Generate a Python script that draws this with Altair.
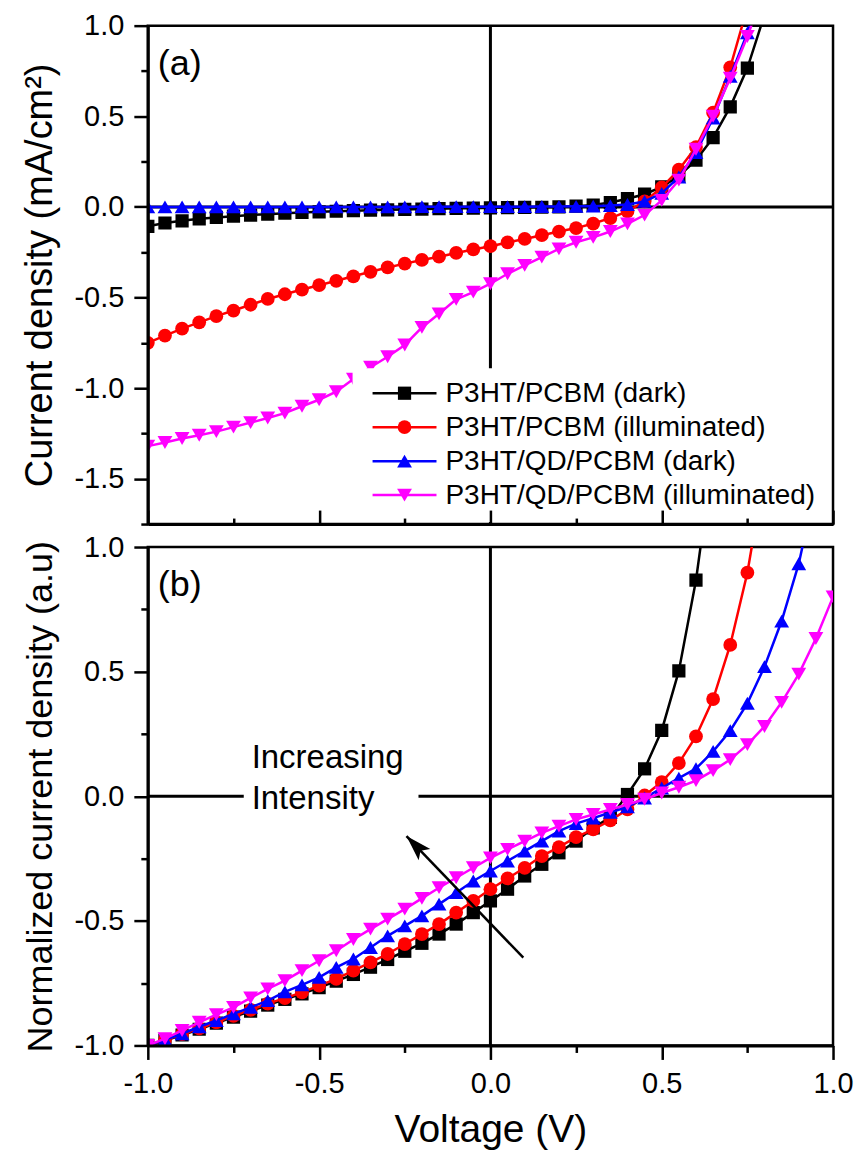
import altair as alt
import pandas as pd

FONT = "Liberation Sans"

# Voltage grid of the sweep (V), one reading every 50 mV
VOLTAGE = [-1.0, -0.95, -0.9, -0.85, -0.8, -0.75, -0.7, -0.65, -0.6, -0.55,
           -0.5, -0.45, -0.4, -0.35, -0.3, -0.25, -0.2, -0.15, -0.1, -0.05,
           0.0, 0.05, 0.1, 0.15, 0.2, 0.25, 0.3, 0.35, 0.4, 0.45,
           0.5, 0.55, 0.6, 0.65, 0.7, 0.75, 0.8, 0.85, 0.9, 0.95, 1.0]

SERIES = ["P3HT/PCBM (dark)", "P3HT/PCBM (illuminated)",
          "P3HT/QD/PCBM (dark)", "P3HT/QD/PCBM (illuminated)"]
COLORS = ["#000000", "#ff0000", "#0000ff", "#ff00ff"]
SHAPES = ["square", "circle", "triangle-up", "triangle-down"]
SIZES = [175, 190, 220, 220]

# (a) current density, mA/cm^2
A_PCBM_DARK = [-0.107, -0.089, -0.077, -0.066, -0.058, -0.051, -0.045, -0.040, -0.035, -0.031,
               -0.027, -0.024, -0.021, -0.018, -0.016, -0.014, -0.012, -0.010, -0.008, -0.007,
               -0.005, -0.004, -0.003, -0.002, 0.000, 0.004, 0.010, 0.024, 0.045, 0.070,
               0.110, 0.170, 0.258, 0.382, 0.552, 0.766, 1.06]
A_PCBM_LIGHT = [-0.750, -0.710, -0.672, -0.637, -0.603, -0.572, -0.540, -0.508, -0.482, -0.456,
                -0.432, -0.408, -0.383, -0.358, -0.334, -0.313, -0.293, -0.275, -0.254, -0.235,
                -0.217, -0.196, -0.177, -0.156, -0.136, -0.117, -0.092, -0.062, -0.025, 0.030,
                0.107, 0.205, 0.330, 0.520, 0.770, 1.10, 1.45]
A_QD_DARK = [0.000, 0.000, 0.000, 0.000, 0.000, 0.000, 0.000, 0.000, 0.000, 0.000,
             0.000, 0.000, 0.000, 0.000, 0.000, 0.000, 0.001, 0.001, 0.001, 0.001,
             0.001, 0.001, 0.001, 0.002, 0.002, 0.003, 0.004, 0.007, 0.013, 0.030,
             0.075, 0.165, 0.300, 0.490, 0.720, 0.960, 1.25]
A_QD_LIGHT = [-1.320, -1.300, -1.278, -1.260, -1.240, -1.215, -1.190, -1.165, -1.138, -1.100,
              -1.064, -1.020, -0.950, -0.885, -0.827, -0.762, -0.665, -0.590, -0.510, -0.470,
              -0.424, -0.369, -0.323, -0.277, -0.232, -0.195, -0.168, -0.136, -0.094, -0.045,
              0.036, 0.148, 0.318, 0.500, 0.710, 0.940, 1.20]

# (b) normalized current density, a.u.
B_PCBM_DARK = [-1.000, -0.980, -0.958, -0.935, -0.910, -0.886, -0.862, -0.838, -0.815, -0.793,
               -0.768, -0.742, -0.715, -0.686, -0.655, -0.622, -0.590, -0.553, -0.513, -0.467,
               -0.420, -0.373, -0.320, -0.273, -0.227, -0.180, -0.127, -0.085, 0.007, 0.110,
               0.264, 0.503, 0.867, 1.37]
B_PCBM_LIGHT = [-1.000, -0.978, -0.955, -0.932, -0.907, -0.881, -0.857, -0.832, -0.810, -0.787,
                -0.760, -0.733, -0.700, -0.667, -0.633, -0.593, -0.553, -0.513, -0.467, -0.420,
                -0.373, -0.330, -0.287, -0.240, -0.204, -0.164, -0.133, -0.097, -0.053, 0.003,
                0.057, 0.133, 0.240, 0.390, 0.607, 0.897, 1.30]
B_QD_DARK = [-1.000, -0.977, -0.953, -0.925, -0.900, -0.873, -0.847, -0.820, -0.785, -0.757,
             -0.727, -0.687, -0.653, -0.607, -0.560, -0.520, -0.480, -0.433, -0.387, -0.340,
             -0.300, -0.260, -0.220, -0.180, -0.140, -0.110, -0.088, -0.065, -0.043, -0.007,
             0.033, 0.073, 0.111, 0.180, 0.263, 0.373, 0.520, 0.703, 0.933, 1.25]
B_QD_LIGHT = [-1.000, -0.973, -0.940, -0.907, -0.876, -0.847, -0.809, -0.773, -0.740, -0.700,
              -0.660, -0.620, -0.575, -0.533, -0.493, -0.453, -0.410, -0.367, -0.327, -0.287,
              -0.247, -0.213, -0.180, -0.147, -0.120, -0.093, -0.073, -0.053, -0.033, -0.012,
              0.013, 0.036, 0.063, 0.103, 0.147, 0.207, 0.280, 0.377, 0.490, 0.633, 0.800]

# Annotation in (b): arrow tail/tip and the two-line label (data units)
ARROW_TAIL = (0.096, -0.648)
ARROW_TIP = (-0.245, -0.16)
NOTE_LINES = ["Increasing", "Intensity"]
NOTE_POS = (-0.697, 0.112)
NOTE_BOX = (-0.72, -0.21, 0.21, -0.075)

QUARTERS_X = [-1.0, -0.75, -0.5, -0.25, 0.0, 0.25, 0.5, 0.75, 1.0]
QUARTERS_YA = [-1.75, -1.5, -1.25, -1.0, -0.75, -0.5, -0.25, 0.0, 0.25, 0.5, 0.75, 1.0]
QUARTERS_YB = [-1.0, -0.75, -0.5, -0.25, 0.0, 0.25, 0.5, 0.75, 1.0]

W, H = 686, 499
MINOR = "abs(datum.value * 4) % 2 == 1"
LABEL = "abs(datum.value * 4) % 2 == 1 ? '' : replace(format(datum.value, '.1f'), '\u2212', '-')"


def tick_len(major, minor):
    return {"condition": {"test": MINOR, "value": minor}, "value": major}


x_scale = alt.Scale(domain=[-1.0, 1.0], nice=False, zero=False)


def x_enc(show_labels):
    if show_labels:
        axis = alt.Axis(values=QUARTERS_X, labelExpr=LABEL, title="Voltage (V)",
                        tickSize=tick_len(14, 7), labelPadding=10, titlePadding=12,
                        titleFontSize=39, labelFlush=False, zindex=1)
    else:
        axis = alt.Axis(values=QUARTERS_X, labels=False, title=None,
                        tickSize=tick_len(-14, -6), zindex=1)
    return alt.X("V:Q", scale=x_scale, axis=axis)


def y_enc(domain, values, title, title_size):
    axis = alt.Axis(values=values, labelExpr=LABEL, title=title,
                    tickSize=tick_len(14, 7), labelPadding=10, titlePadding=14,
                    titleFontSize=title_size, labelFlush=False, zindex=1)
    return alt.Y("J:Q", scale=alt.Scale(domain=domain, nice=False, zero=False), axis=axis)


def curve_layers(curves, xe, ye):
    layers = []
    for vals, color, shape, size in curves:
        df = pd.DataFrame({"V": VOLTAGE[:len(vals)], "J": vals})
        base = alt.Chart(df).encode(x=xe, y=ye)
        layers.append(base.mark_line(color=color, strokeWidth=2.5, clip=True))
        layers.append(base.mark_point(shape=shape, filled=True, color=color, size=size,
                                      opacity=1, clip=True))
    return layers


def zero_lines(xe, ye):
    h = alt.Chart(pd.DataFrame({"J": [0.0]})).mark_rule(color="black", strokeWidth=3).encode(y=ye)
    v = alt.Chart(pd.DataFrame({"V": [0.0]})).mark_rule(color="black", strokeWidth=3).encode(x=xe)
    return [h, v]


def panel_tag(label):
    return alt.Chart(pd.DataFrame({"t": [label]})).mark_text(
        align="left", baseline="alphabetic", font=FONT, fontSize=36, color="black"
    ).encode(x=alt.value(10), y=alt.value(49), text="t:N")


# ---------- panel (a) ----------
xa = x_enc(False)
ya = y_enc([-1.75, 1.0], QUARTERS_YA, "Current density (mA/cm\u00b2)", 38)
curves_a = list(zip([A_PCBM_DARK, A_PCBM_LIGHT, A_QD_DARK, A_QD_LIGHT], COLORS, SHAPES, SIZES))

layers_a = zero_lines(xa, ya) + curve_layers(curves_a, xa, ya)

# legend block with white backing
layers_a.append(
    alt.Chart(pd.DataFrame({"k": [0]})).mark_rect(color="white").encode(
        x=alt.value(205), x2=alt.value(683), y=alt.value(343), y2=alt.value(497))
)
legend_rows = [368, 402, 436, 470]
for name, color, shape, size, ry in zip(SERIES, COLORS, SHAPES, SIZES, legend_rows):
    one = pd.DataFrame({"name": [name]})
    layers_a.append(alt.Chart(one).mark_rule(color=color, strokeWidth=2.5).encode(
        x=alt.value(225), x2=alt.value(289), y=alt.value(ry)))
    layers_a.append(alt.Chart(one).mark_point(shape=shape, filled=True, color=color,
                                              size=size, opacity=1).encode(
        x=alt.value(257), y=alt.value(ry)))
    layers_a.append(alt.Chart(one).mark_text(align="left", baseline="middle", font=FONT,
                                             fontSize=28, color="black").encode(
        x=alt.value(298), y=alt.value(ry + 1), text="name:N"))
layers_a.append(panel_tag("(a)"))

panel_a = alt.layer(*layers_a).properties(width=W, height=H)

# ---------- panel (b) ----------
xb = x_enc(True)
yb = y_enc([-1.0, 1.0], QUARTERS_YB, "Normalized current density (a.u)", 36)
curves_b = list(zip([B_PCBM_DARK, B_PCBM_LIGHT, B_QD_DARK, B_QD_LIGHT], COLORS, SHAPES, SIZES))

box = pd.DataFrame({"V": [NOTE_BOX[0]], "V2": [NOTE_BOX[1]], "J": [NOTE_BOX[2]], "J2": [NOTE_BOX[3]]})
note_bg = alt.Chart(box).mark_rect(color="white").encode(x=xb, x2="V2:Q", y=yb, y2="J2:Q")
note = alt.Chart(pd.DataFrame({"V": [NOTE_POS[0]], "J": [NOTE_POS[1]]})).mark_text(
    text=NOTE_LINES, align="left", baseline="alphabetic", font=FONT, fontSize=33,
    lineHeight=41, color="black"
).encode(x=xb, y=yb)

arrow_df = pd.DataFrame({"V": [ARROW_TAIL[0]], "J": [ARROW_TAIL[1]],
                         "V2": [ARROW_TIP[0]], "J2": [ARROW_TIP[1]]})
arrow_line = alt.Chart(arrow_df).mark_rule(color="black", strokeWidth=2.5).encode(
    x=xb, y=yb, x2="V2:Q", y2="J2:Q")
arrow_head = alt.Chart(pd.DataFrame({"V": [ARROW_TIP[0]], "J": [ARROW_TIP[1]]})).mark_point(
    shape="M0,0L0.5,1.6L0,1.25L-0.5,1.6Z", filled=True, color="black", opacity=1,
    size=1050, angle=316
).encode(x=xb, y=yb)

layers_b = zero_lines(xb, yb) + [note_bg, note] + curve_layers(curves_b, xb, yb) + \
    [arrow_line, arrow_head, panel_tag("(b)")]
panel_b = alt.layer(*layers_b).properties(width=W, height=H)

chart = alt.vconcat(panel_a, panel_b, spacing=23, bounds="flush").properties(
    padding={"left": 20, "top": 9, "right": 0, "bottom": 0}
).configure(font=FONT).configure_axis(
    domainColor="black", domainWidth=3, tickColor="black", tickWidth=2.5,
    labelColor="black", titleColor="black", labelFont=FONT, titleFont=FONT,
    labelFontSize=29, titleFontWeight="normal", grid=False
).configure_view(stroke="black", strokeWidth=2.5)

chart.save("out.html", embed_options={"renderer": "svg", "actions": False})
